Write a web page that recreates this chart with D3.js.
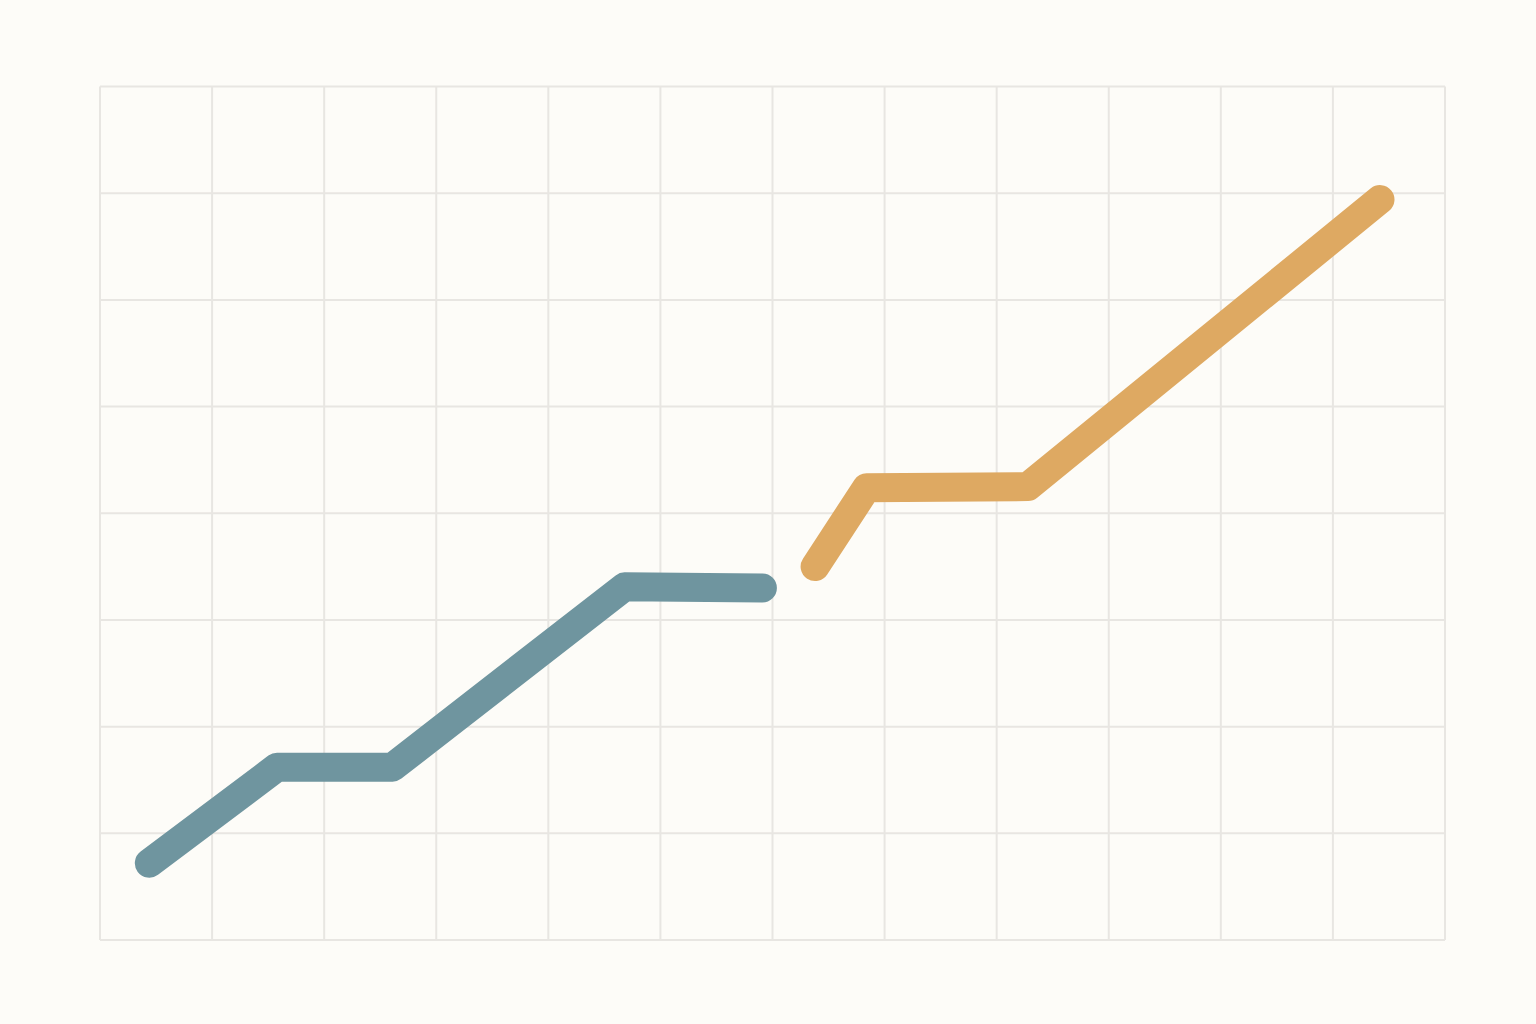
<!DOCTYPE html>
<html>
<head>
<meta charset="utf-8">
<script src="https://cdn.jsdelivr.net/npm/d3@7"></script>
<style>
  html, body { margin: 0; padding: 0; background: #fdfcf8; }
  svg { display: block; }
</style>
</head>
<body>
<div id="chart"></div>
<script>
// grid positions (data units)
var xGrid = [0, 1, 2, 3, 4, 5, 6, 7, 8, 9, 10, 11, 12];
var yGrid = [0, 1, 2, 3, 4, 5, 6, 7, 8];

// series
var blueX = [0.44, 1.58, 2.61, 4.68, 5.91];
var blueY = [0.72, 1.62, 1.62, 3.31, 3.30];
var orangeX = [6.38, 6.84, 8.28, 11.42];
var orangeY = [3.50, 4.24, 4.25, 6.94];

var W = 1536, H = 1024;
var margin = {top: 86.5, right: 91, bottom: 84, left: 100};

var svg = d3.select("#chart")
  .append("svg")
  .attr("width", W)
  .attr("height", H);

svg.append("rect")
  .attr("width", W)
  .attr("height", H)
  .attr("fill", "#fdfcf8");

var x = d3.scaleLinear()
  .domain([0, 12])
  .range([margin.left, W - margin.right]);
var y = d3.scaleLinear()
  .domain([0, 8])
  .range([H - margin.bottom, margin.top]);

var grid = svg.append("g").attr("class", "grid");

grid.selectAll("line.v")
  .data(xGrid)
  .enter().append("line")
  .attr("class", "v")
  .attr("x1", function(d) { return x(d); })
  .attr("x2", function(d) { return x(d); })
  .attr("y1", y(0))
  .attr("y2", y(8))
  .style("stroke", "#e8e6e2")
  .style("stroke-width", 2);

grid.selectAll("line.h")
  .data(yGrid)
  .enter().append("line")
  .attr("class", "h")
  .attr("y1", function(d) { return y(d); })
  .attr("y2", function(d) { return y(d); })
  .attr("x1", x(0))
  .attr("x2", x(12))
  .style("stroke", "#e8e6e2")
  .style("stroke-width", 2);

var line = d3.line()
  .x(function(d) { return x(d[0]); })
  .y(function(d) { return y(d[1]); });

var series = [
  {pts: d3.zip(blueX, blueY), color: "#6f959f"},
  {pts: d3.zip(orangeX, orangeY), color: "#dea962"}
];

svg.selectAll("path.series")
  .data(series)
  .enter().append("path")
  .attr("class", "series")
  .attr("d", function(d) { return line(d.pts); })
  .style("fill", "none")
  .style("stroke", function(d) { return d.color; })
  .style("stroke-width", 29)
  .style("stroke-linecap", "round")
  .style("stroke-linejoin", "round");
</script>
</body>
</html>
